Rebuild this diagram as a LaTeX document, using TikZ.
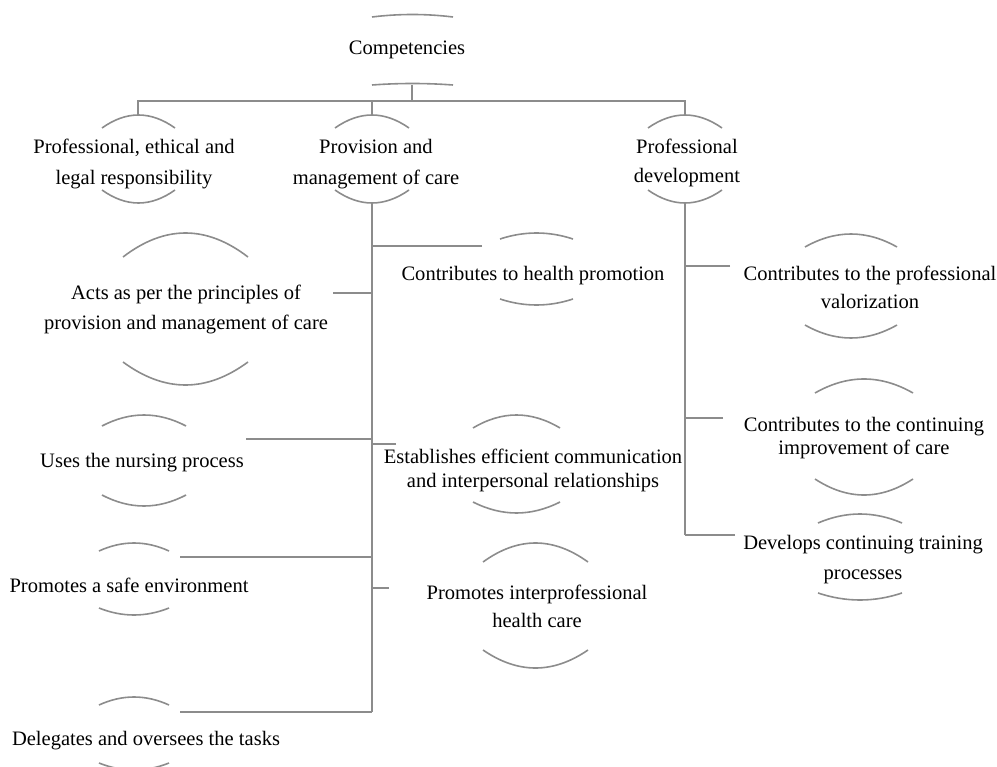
\documentclass[tikz,border=0pt]{standalone}
\usepackage{fontspec}
\setmainfont{Liberation Serif}
\definecolor{linegray}{RGB}{140,140,140}
\tikzset{
  treeline/.style={draw=linegray, line width=1.4pt},
  arcline/.style={draw=linegray, line width=1.2pt},
  lbl/.style={align=center, inner sep=0pt, text=black, font=\fontsize{15.4}{21.75}\selectfont},
  lsp/.style={font=\fontsize{15.4}{#1}\selectfont}
}
% parabolic arc from (x1,ye) to (x2,ye) whose vertex is at height yv
\newcommand\onearc[4]{%
  \draw[arcline] (#1,#3) .. controls ({#1+(#2-#1)/3},{#3+4/3*(#4-#3)}) and ({#2-(#2-#1)/3},{#3+4/3*(#4-#3)}) .. (#2,#3);}
\newcommand\arcpair[6]{\onearc{#1}{#2}{#3}{#4}\onearc{#1}{#2}{#5}{#6}}
\begin{document}
\begin{tikzpicture}[x=0.75pt,y=-0.75pt]
\useasboundingbox (0,0) rectangle (997,767);
\clip (0,0) rectangle (997,767);
% ---------- text nodes ----------
\node[lbl] (c0) at (407,50) {Competencies};
\node[lbl,lsp=23.25pt] (p1) at (134,164) {Professional, ethical and\\legal responsibility};
\node[lbl,lsp=23.25pt] (p2) at (376,164) {Provision and\\management of care};
\node[lbl,lsp=21.75pt] (p3) at (687,163) {Professional\\development};
\node[lbl] (m1) at (533,276) {Contributes to health promotion};
\node[lbl,lsp=22.5pt] (m2) at (186,309.5) {Acts as per the principles of\\provision and management of care};
\node[lbl] (m3) at (142,463) {Uses the nursing process};
\node[lbl,lsp=18pt] (m4) at (533,470.5) {Establishes efficient communication\\and interpersonal relationships};
\node[lbl] (m5) at (129,585) {Promotes a safe environment};
\node[lbl,lsp=21pt] (m6) at (537,606.5) {Promotes interprofessional\\health care};
\node[lbl] (m7) at (146,741) {Delegates and oversees the tasks};
\node[lbl,lsp=21pt] (r1) at (870,287.5) {Contributes to the professional\\valorization};
\node[lbl,lsp=17.25pt] (r2) at (864,438) {Contributes to the continuing\\improvement of care};
\node[lbl,lsp=22.5pt] (r3) at (863,559.5) {Develops continuing training\\processes};
% ---------- arcs ----------
\arcpair{372}{453}{17}{14.5}{85}{83.5}
\arcpair{102}{175}{128}{115}{190}{203}
\arcpair{335}{409}{128}{115}{190}{203}
\arcpair{648}{722}{128}{115}{190}{203}
\arcpair{500}{573}{239}{233}{299}{305}
\arcpair{123}{248}{257}{233}{362}{385}
\arcpair{102}{186}{426}{415}{495}{506}
\arcpair{473}{560}{428}{415}{502}{513}
\arcpair{99}{169}{551}{543}{608}{615}
\arcpair{483}{588}{562}{543}{650}{668}
\arcpair{99}{169}{705}{697}{763}{770}
\arcpair{805}{897}{247}{234}{325}{338}
\arcpair{815}{913}{393}{379}{479}{495}
\arcpair{818}{902}{523}{514}{593}{600}
% ---------- anchor coordinates ----------
\coordinate (c0b) at (412,85);
\coordinate (bus) at (412,101);
\coordinate (p1t) at (138,115);
\coordinate (p2t) at (372,115);
\coordinate (p3t) at (685,115);
\coordinate (p2b) at (372,203);
\coordinate (p3b) at (685,203);
\coordinate (m1e) at (482,246);
\coordinate (m2e) at (333,293);
\coordinate (m3e) at (246,439);
\coordinate (m4e) at (396,444);
\coordinate (m5e) at (180,557);
\coordinate (m6e) at (389,588);
\coordinate (m7e) at (180,712);
\coordinate (r1e) at (730,266);
\coordinate (r2e) at (723,418);
\coordinate (r3e) at (735,535);
% ---------- connectors ----------
\draw[treeline] (c0b) -- (bus);
\draw[treeline] (p1t) |- (bus) -| (p3t);
\draw[treeline] (p2t) -- (p2t |- bus);
\draw[treeline] (p2b) -- (p2b |- m7e);
\foreach \e in {m1e,m2e,m3e,m4e,m5e,m6e,m7e}
  \draw[treeline] (\e) -- (\e -| p2b);
\draw[treeline] (p3b) -- (p3b |- r3e);
\foreach \e in {r1e,r2e,r3e}
  \draw[treeline] (\e) -- (\e -| p3b);
\end{tikzpicture}
\end{document}
